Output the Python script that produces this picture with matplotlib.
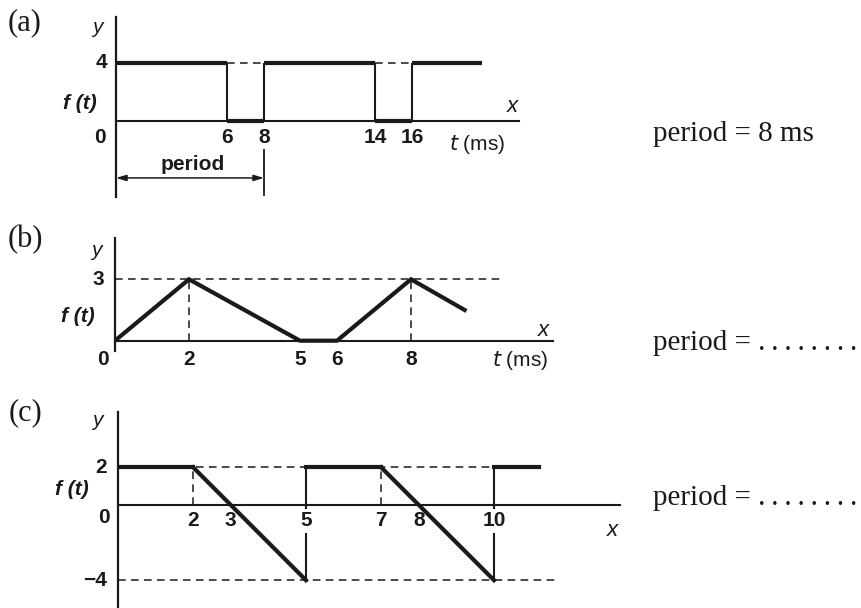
import matplotlib
matplotlib.use("Agg")
import matplotlib.pyplot as plt
import numpy as np

# ---------------- data ----------------
# (a) square wave
a_edges = [0, 6, 8, 14, 16, 19.8]
a_levels = [4, 0, 4, 0, 4]
a_ticks = [6, 8, 14, 16]
a_high = 4
a_period = 8
# (b) triangular wave
b_t = [0, 2, 5, 6, 8, 9.45]
b_y = [0, 3, 0, 0, 3, 1.5]
b_ticks = [2, 5, 6, 8]
b_high = 3
b_peaks = [2, 8]
# (c) sawtooth-like wave
c_t = [0, 2, 5, 5, 7, 10, 10, 11.2]
c_y = [2, 2, -4, 2, 2, -4, 2, 2]
c_ticks = [2, 3, 5, 7, 8, 10]
c_high = 2
c_low = -4
c_corners = [2, 7]

DOTS = "\u2009".join(["."] * 8)
answers = ["period = 8 ms", "period = " + DOTS, "period = " + DOTS]
panel_labels = ["(a)", "(b)", "(c)"]

# ---------------- layout helpers ----------------
W, H = 861, 608
fig = plt.figure(figsize=(W / 100, H / 100), dpi=100)
SANS = "Liberation Sans"
SERIF = ["Liberation Serif", "DejaVu Serif"]
BLACK = "#1a1a1a"


def make_ax(x0, sx, y0, sy, xlim, ylim):
    left = x0 + sx * xlim[0]
    right = x0 + sx * xlim[1]
    top = y0 - sy * ylim[1]
    bottom = y0 - sy * ylim[0]
    ax = fig.add_axes([left / W, 1 - bottom / H, (right - left) / W, (bottom - top) / H])
    ax.set_xlim(*xlim)
    ax.set_ylim(*ylim)
    ax.axis("off")
    ax.axhline(0, color=BLACK, lw=1.5, clip_on=False, zorder=2)
    ax.axvline(0, color=BLACK, lw=1.6, clip_on=False, zorder=2)
    return ax


tick_kw = dict(fontsize=15, fontweight="bold", family=SANS, color=BLACK)
ital_kw = dict(fontsize=15, style="italic", family=SANS, color=BLACK)
ft_kw = dict(fontsize=15, style="italic", fontweight="bold", family=SANS, color=BLACK)
dash_kw = dict(color=BLACK, lw=1.1, ls=(0, (5, 3.5)), zorder=1)
THICK = 3.0
THIN = 1.5

# ---------------- panel (a) ----------------
ax = make_ax(116, 18.5, 121, 14.6, (0, 21.8), (-5.2, 7.1))
ax.hlines(a_levels, a_edges[:-1], a_edges[1:], color=BLACK, lw=THICK, zorder=3,
          capstyle="butt")
ax.vlines(a_edges[1:-1], 0, a_high, color=BLACK, lw=THIN, zorder=3)
for lo, hi, lev in zip(a_edges[:-1], a_edges[1:], a_levels):
    if lev == 0:
        ax.plot([lo, hi], [a_high, a_high], **dash_kw)
for t in a_ticks:
    ax.text(t, -1.1, str(t), ha="center", va="center", **tick_kw)
ax.text(-0.45, a_high, str(a_high), ha="right", va="center", **tick_kw)
ax.text(-0.86, -1.1, "0", ha="center", va="center", **tick_kw)
ax.text(-1.03, 6.37, "y", ha="center", va="center", **ital_kw)
ax.text(-1.95, 1.23, "f (t)", ha="center", va="center", **ft_kw)
ax.text(21.45, 0.96, "x", ha="center", va="center", fontsize=16, style="italic",
        family=SANS, color=BLACK)
ax.text(19.5, -1.64, "$\\it{t}$ (ms)", ha="center", va="center", fontsize=15,
        family=SANS, color=BLACK)
ax.annotate("", xy=(0, -3.9), xytext=(a_period, -3.9),
            arrowprops=dict(arrowstyle="<|-|>,head_length=0.6,head_width=0.18",
                            color=BLACK, lw=1.1, shrinkA=0, shrinkB=0))
ax.plot([a_period, a_period], [-2.0, -5.07], color=BLACK, lw=1.3)
ax.text(a_period / 2 + 0.16, -2.95, "period", ha="center", va="center",
        fontsize=15, fontweight="bold", family=SANS, color=BLACK)

# ---------------- panel (b) ----------------
ax = make_ax(115, 37, 340.7, 20.47, (0, 11.84), (-0.5, 5.0))
ax.plot(b_t, b_y, color=BLACK, lw=THICK, zorder=3, solid_joinstyle="miter")
ax.plot([0, 10.45], [b_high, b_high], **dash_kw)
for p in b_peaks:
    ax.plot([p, p], [0, b_high], **dash_kw)
for t in b_ticks:
    ax.text(t, -0.94, str(t), ha="center", va="center", **tick_kw)
ax.text(-0.3, b_high, str(b_high), ha="right", va="center", **tick_kw)
ax.text(-0.32, -0.94, "0", ha="center", va="center", **tick_kw)
ax.text(-0.49, 4.43, "y", ha="center", va="center", **ital_kw)
ax.text(-1.0, 1.16, "f (t)", ha="center", va="center", **ft_kw)
ax.text(11.57, 0.5, "x", ha="center", va="center", fontsize=16, style="italic",
        family=SANS, color=BLACK)
ax.text(10.95, -0.99, "$\\it{t}$ (ms)", ha="center", va="center", fontsize=15,
        family=SANS, color=BLACK)

# ---------------- panel (c) ----------------
ax = make_ax(118, 37.6, 505, 18.8, (0, 13.35), (-5.5, 4.95))
for i in range(len(c_t) - 1):
    vert = c_t[i] == c_t[i + 1]
    ax.plot(c_t[i:i + 2], c_y[i:i + 2], color=BLACK, lw=THIN if vert else THICK,
            zorder=3, solid_capstyle="butt" if vert else "projecting")
ax.plot([0, 10], [c_high, c_high], **dash_kw)
ax.plot([0, 11.67], [c_low, c_low], **dash_kw)
for p in c_corners:
    ax.plot([p, p], [0, c_high], **dash_kw)
jumps = [c_t[i] for i in range(len(c_t) - 1) if c_t[i] == c_t[i + 1]]
for t in c_ticks:
    kw = dict(tick_kw)
    if t in jumps:
        kw["bbox"] = dict(facecolor="white", edgecolor="none", pad=1.5)
    ax.text(t, -0.85, str(t), ha="center", va="center", zorder=5, **kw)
ax.text(-0.3, c_high, str(c_high), ha="right", va="center", **tick_kw)
ax.text(-0.3, c_low, "\u2212" + str(abs(c_low)), ha="right", va="center", **tick_kw)
ax.text(-0.37, -0.64, "0", ha="center", va="center", **tick_kw)
ax.text(-0.56, 4.52, "y", ha="center", va="center", **ital_kw)
ax.text(-1.22, 0.8, "f (t)", ha="center", va="center", **ft_kw)
ax.text(13.16, -1.33, "x", ha="center", va="center", fontsize=16, style="italic",
        family=SANS, color=BLACK)

# ---------------- texts ----------------
for lab, yp in zip(panel_labels, [23, 240, 413]):
    fig.text(25 / W, 1 - yp / H, lab, ha="center", va="center", fontsize=22,
             family=SERIF, color=BLACK)
for txt, yp in zip(answers, [141, 350, 505]):
    fig.text(653 / W, 1 - yp / H, txt, ha="left", va="baseline", fontsize=21,
             family=SERIF, color=BLACK)

fig.savefig("out.png", dpi=100, facecolor="white")
